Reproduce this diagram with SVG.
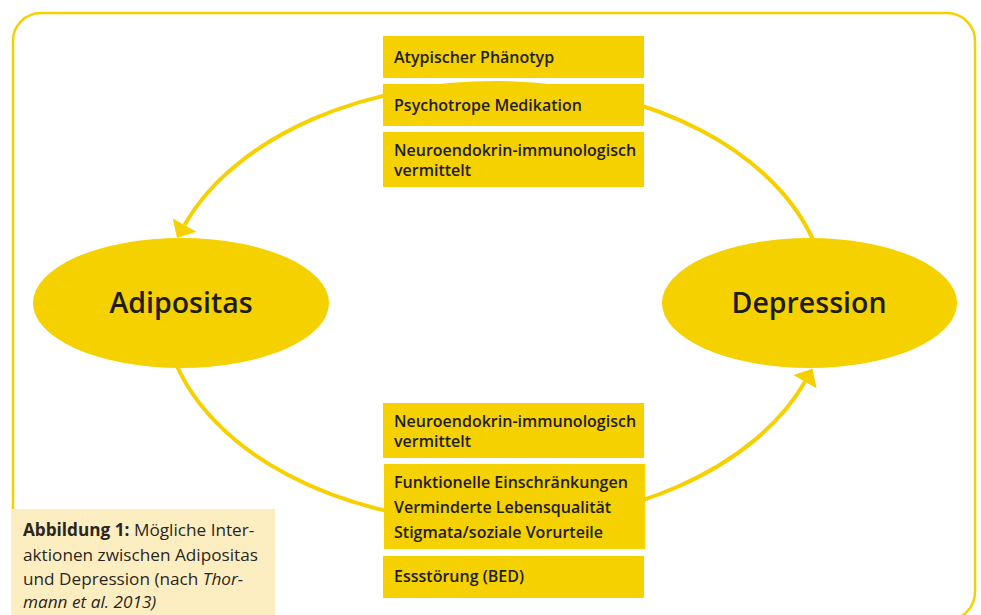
<svg xmlns="http://www.w3.org/2000/svg" width="981" height="615" viewBox="0 0 981 615">
<style>
.frame{fill:none;stroke:#F5D100;stroke-width:2.5}
.node{fill:#F5D100}
.box{fill:#F5D100}
.conn{fill:none;stroke:#F5D100;stroke-width:4}
.lbl{font-family:"Open Sans","Noto Sans",sans-serif;font-weight:600;fill:#1f1c14}
.big{font-size:28.5px;text-anchor:middle}
.bt{font-size:16px}
.cap{font-family:"Open Sans","Noto Sans",sans-serif;font-size:17.2px;fill:#2a2620}
</style>
<defs>
<marker id="ah" markerUnits="userSpaceOnUse" markerWidth="30" markerHeight="30" viewBox="0 -15 16 30" refX="0" refY="0" orient="auto">
<path d="M0,-13.5 L15,0 L0,13.5 Z" fill="#F5D100"/>
</marker>
</defs>
<rect width="981" height="615" fill="#ffffff"/>
<rect class="frame" x="13" y="13" width="962" height="607" rx="28" ry="28"/>
<g id="connectors">
<path class="conn" d="M 815 244.4 A 332 220 0 0 0 184.5 225.1" marker-end="url(#ah)"/>
<path class="conn" d="M 175 361.6 A 332 220 0 0 0 805 381.8" marker-end="url(#ah)"/>
</g>
<g id="adipositas">
<ellipse class="node" cx="181" cy="303" rx="148" ry="65"/>
<text class="lbl big" x="181" y="313">Adipositas</text>
</g>
<g id="depression">
<ellipse class="node" cx="809.5" cy="303" rx="147.5" ry="65"/>
<text class="lbl big" x="809" y="313">Depression</text>
</g>
<g id="top-box-1">
<rect class="box" x="383" y="36" width="261" height="42"/>
<text class="lbl bt" x="394" y="63">Atypischer Phänotyp</text>
</g>
<g id="top-box-2">
<rect class="box" x="383" y="84" width="261" height="42"/>
<text class="lbl bt" x="394" y="111">Psychotrope Medikation</text>
</g>
<g id="top-box-3">
<rect class="box" x="383" y="132" width="261" height="55"/>
<text class="lbl bt" x="394" y="156">Neuroendokrin-immunologisch</text>
<text class="lbl bt" x="394" y="176">vermittelt</text>
</g>
<g id="bottom-box-1">
<rect class="box" x="383" y="403" width="261" height="55"/>
<text class="lbl bt" x="394" y="427">Neuroendokrin-immunologisch</text>
<text class="lbl bt" x="394" y="447">vermittelt</text>
</g>
<g id="bottom-box-2">
<rect class="box" x="384" y="464" width="261" height="85"/>
<text class="lbl bt" x="394" y="488">Funktionelle Einschränkungen</text>
<text class="lbl bt" x="394" y="512.5">Verminderte Lebensqualität</text>
<text class="lbl bt" x="394" y="537.5">Stigmata/soziale Vorurteile</text>
</g>
<g id="bottom-box-3">
<rect class="box" x="383" y="556" width="261" height="42"/>
<text class="lbl bt" x="394" y="582">Essstörung (BED)</text>
</g>
<g id="caption">
<rect x="11" y="509" width="264" height="106" fill="#FDEEC2"/>
<text class="cap" x="23" y="536"><tspan font-weight="700">Abbildung 1:</tspan> Mögliche Inter-</text>
<text class="cap" x="23" y="561">aktionen zwischen Adipositas</text>
<text class="cap" x="23" y="585">und Depression (nach <tspan font-style="italic">Thor-</tspan></text>
<text class="cap" x="23" y="608" font-style="italic">mann et al. 2013)</text>
</g>
</svg>
